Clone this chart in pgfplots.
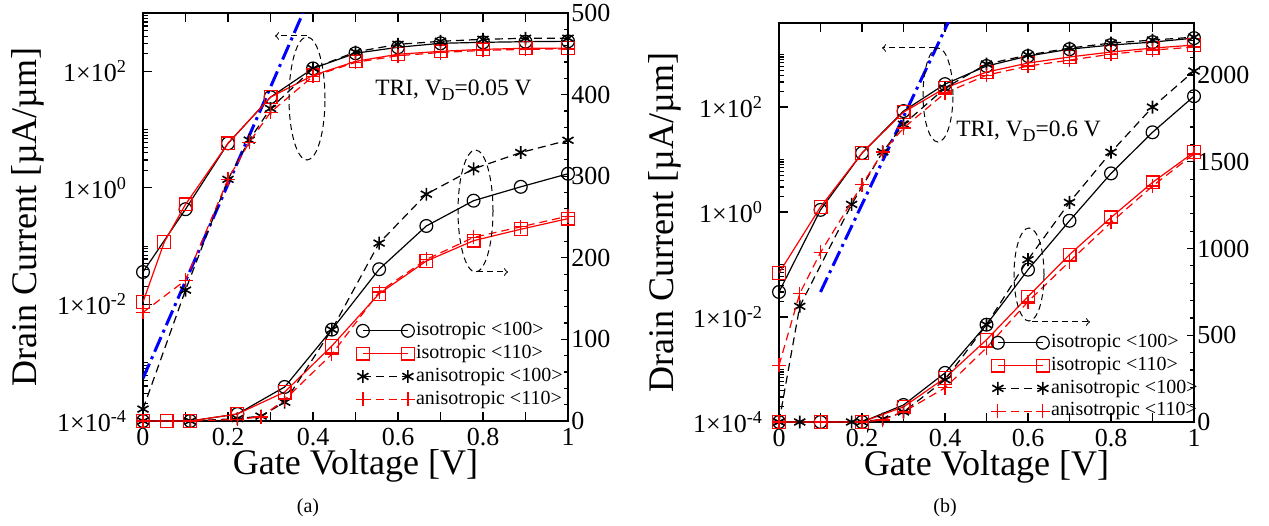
\documentclass[border=0pt]{standalone}
\usepackage{fontspec}
\setmainfont{Liberation Serif}
\usepackage{pgfplots}
\pgfplotsset{compat=1.18}

\tikzset{ell/.style={black, line width=0.5pt, dash pattern=on 3pt off 2pt}}

\pgfplotsset{
  base/.style={
    scale only axis, anchor=south west,
    xmin=0, xmax=1, enlargelimits=false,
    tick align=inside,
    tick label style={font=\fontsize{13}{13}\selectfont},
    label style={font=\fontsize{18}{18}\selectfont},
    /pgf/number format/assume math mode=true,
    /pgf/number format/1000 sep={},
    axis line style={line width=0.7pt},
    tick style={line width=0.6pt, black},
  },
  logax/.style={
    base, ymin=1e-4, clip mode=individual,
    xtick={0,0.1,0.2,0.3,0.4,0.5,0.6,0.7,0.8,0.9,1},
    xticklabels={0,,0.2,,0.4,,0.6,,0.8,,1},
    xtick pos=both, ytick pos=left,
    ytick={1e-4,1e-2,1,1e2},
    yticklabels={1×10\textsuperscript{-4},1×10\textsuperscript{-2},1×10\textsuperscript{0},1×10\textsuperscript{2}},
    minor ytick={2e-4,3e-4,4e-4,5e-4,6e-4,7e-4,8e-4,9e-4,1e-3,
                 2e-2,3e-2,4e-2,5e-2,6e-2,7e-2,8e-2,9e-2,1e-1,
                 2,3,4,5,6,7,8,9,10,
                 200,300,400,500,600,700,800,900,1000},
    major tick length=4.5pt, minor tick length=2.5pt,
    yticklabel style={xshift=-4.5pt},
    xlabel={Gate Voltage [V]},
    ylabel={Drain Current [µA/µm]},
    xlabel style={anchor=base},
    ylabel style={anchor=center},
  },
  linax/.style={
    base, ymin=0, clip=false,
    axis x line=none, axis y line*=right,
    major tick length=3.5pt, minor tick length=2pt,
    yticklabel style={xshift=-1.8pt},
    legend cell align=left,
    legend image code/.code={\draw[##1] plot coordinates {(0pt,0pt) (22.5pt,0pt)};},
    legend style={draw=none, fill=none, anchor=north west, inner sep=0pt,
      row sep=1pt, column sep=0pt,
      font=\fontsize{10}{10}\selectfont,
      nodes={inner sep=0.6pt, text height=7pt, text depth=2.2pt}},
  },
  iso100/.style={black, line width=0.6pt, mark=o, mark size=3.2pt, mark options={solid}},
  iso110/.style={red, line width=0.6pt, mark=square, mark size=3.2pt, mark options={solid}},
  an100/.style={black, line width=0.6pt, dash pattern=on 4pt off 2.5pt, mark=asterisk, mark size=3.2pt, mark options={solid, line width=0.8pt}},
  an110/.style={red, line width=0.6pt, dash pattern=on 4pt off 2.5pt, mark=+, mark size=3.5pt, mark options={solid}},
  slope/.style={blue, line width=1.5pt, dash pattern=on 8pt off 2.5pt on 1.5pt off 2.5pt},
}

\begin{document}
\begin{tikzpicture}
\path[use as bounding box] (0,0) rectangle (634.5pt,262.5pt);

% ---------- (a) ----------
\begin{axis}[ymode=log, logax, at={(71.5pt,52pt)}, width=212.5pt, height=204pt, ymax=1e3,
  ylabel style={at={(axis description cs:-0.27,0.5)}},
  xlabel style={at={(axis description cs:0.5,-0.13)}}]
\addplot[slope] coordinates {(0,5.4e-4) (0.38,1150)};
\addplot[iso100] coordinates {(0,0.036) (0.1,0.43) (0.2,5.8) (0.3,36) (0.4,112) (0.5,204) (0.6,258) (0.7,302) (0.8,314) (0.9,322) (1,327)};
\addplot[iso110] coordinates {(0,0.011) (0.05,0.117) (0.1,0.52) (0.2,5.8) (0.3,36) (0.4,85) (0.5,148) (0.6,196) (0.7,220) (0.8,238) (0.9,248) (1,250)};
\addplot[an100] coordinates {(0,1.6e-4) (0.1,0.0176) (0.2,1.4) (0.25,6.6) (0.3,23) (0.4,112) (0.5,215) (0.6,290) (0.7,327) (0.8,354) (0.9,368) (1,370)};
\addplot[an110] coordinates {(0,0.0073) (0.1,0.026) (0.2,1.4) (0.25,6.05) (0.3,19.8) (0.4,82) (0.5,142) (0.6,185) (0.7,210) (0.8,228) (0.9,238) (1,242)};
\end{axis}

\begin{axis}[linax, at={(71.5pt,52pt)}, width=212.5pt, height=204pt,
  ymax=500, ytick={0,100,200,300,400,500}, minor y tick num=4,
  legend style={at={(0.5,0.2475)}}]
\addplot[iso100] coordinates {(0,0) (0.1111,0) (0.2222,8.6) (0.3333,41.7) (0.4444,112) (0.5556,186) (0.6667,239) (0.7778,270) (0.8889,287) (1,303)};
\addlegendentry{isotropic <100>}
\addplot[iso110] coordinates {(0,0) (0.0556,0) (0.1111,0) (0.2222,8.6) (0.3333,35.5) (0.4444,92) (0.5556,156) (0.6667,196) (0.7778,221) (0.8889,235) (1,248)};
\addlegendentry{isotropic <110>}
\addplot[an100] coordinates {(0,0) (0.1111,0) (0.2222,3) (0.2778,6) (0.3333,23) (0.4444,112) (0.5556,218) (0.6667,278) (0.7778,309) (0.8889,329) (1,344)};
\addlegendentry{anisotropic <100>}
\addplot[an110] coordinates {(0,0) (0.1111,0) (0.2222,2) (0.2778,5) (0.3333,26) (0.4444,82) (0.5556,158) (0.6667,198) (0.7778,225) (0.8889,238) (1,251)};
\addlegendentry{anisotropic <110>}
\end{axis}

% ---------- (b) ----------
\begin{axis}[ymode=log, logax, at={(389.5pt,51.5pt)}, width=207.5pt, height=199.5pt, ymax=4000,
  ylabel style={at={(axis description cs:-0.275,0.5)}},
  xlabel style={at={(axis description cs:0.5,-0.133)}}]
\addplot[slope] coordinates {(0.1,0.03) (0.41,4470)};
\addplot[iso100] coordinates {(0,0.030) (0.1,1.1) (0.2,13.3) (0.3,84) (0.4,274) (0.5,605) (0.6,937) (0.7,1270) (0.8,1520) (0.9,1730) (1,2060)};
\addplot[iso110] coordinates {(0,0.069) (0.1,1.25) (0.2,13.3) (0.3,80) (0.4,230) (0.5,464) (0.6,690) (0.7,900) (0.8,1120) (0.9,1330) (1,1520)};
\addplot[an100] coordinates {(0,1e-4) (0.05,0.016) (0.175,1.4) (0.25,14) (0.3,47) (0.4,230) (0.5,660) (0.6,980) (0.7,1330) (0.8,1660) (0.9,1890) (1,2150)};
\addplot[an110] coordinates {(0,1.2e-3) (0.05,0.028) (0.1,0.17) (0.2,3.3) (0.25,13.9) (0.3,40) (0.4,185) (0.5,405) (0.6,605) (0.7,785) (0.8,1020) (0.9,1220) (1,1390)};
\end{axis}

\begin{axis}[linax, at={(389.5pt,51.5pt)}, width=207.5pt, height=199.5pt,
  ymax=2300, ytick={0,500,1000,1500,2000},
  minor ytick={100,200,300,400,600,700,800,900,1100,1200,1300,1400,1600,1700,1800,1900,2100,2200},
  legend style={at={(0.5096,0.2256)}}]
\addplot[iso100] coordinates {(0,0) (0.1,0) (0.2,0) (0.3,98) (0.4,283) (0.5,561) (0.6,878) (0.7,1160) (0.8,1433) (0.9,1670) (1,1878)};
\addlegendentry{isotropic <100>}
\addplot[iso110] coordinates {(0,0) (0.1,0) (0.2,0) (0.3,87) (0.4,254) (0.5,474) (0.6,723) (0.7,965) (0.8,1179) (0.9,1381) (1,1555)};
\addlegendentry{isotropic <110>}
\addplot[an100] coordinates {(0,0) (0.05,0) (0.175,0) (0.2,0) (0.25,17) (0.3,58) (0.4,243) (0.5,561) (0.6,936) (0.7,1266) (0.8,1555) (0.9,1815) (1,2023)};
\addlegendentry{anisotropic <100>}
\addplot[an110] coordinates {(0,0) (0.1,0) (0.2,0) (0.25,12) (0.3,58) (0.4,197) (0.5,428) (0.6,694) (0.7,925) (0.8,1150) (0.9,1360) (1,1545)};
\addlegendentry{anisotropic <110>}
\end{axis}

% annotations
\draw[ell] (153.5pt,213.25pt) ellipse [x radius=9pt, y radius=30.75pt];
\draw[ell,->] (153.5pt,244.5pt) -- (137.5pt,244.5pt);
\draw[ell] (237.75pt,157pt) ellipse [x radius=8.75pt, y radius=30.5pt];
\draw[ell,->] (238.5pt,126.5pt) -- (254pt,126.5pt);
\draw[ell] (469pt,215pt) ellipse [x radius=7.5pt, y radius=23.5pt];
\draw[ell,->] (467.5pt,238.5pt) -- (441pt,238.5pt);
\draw[ell] (514.5pt,125.25pt) ellipse [x radius=7.5pt, y radius=23.25pt];
\draw[ell,->] (516pt,101.5pt) -- (545pt,101.5pt);

\node[anchor=base west, inner sep=0pt, font=\fontsize{11.7}{12}\selectfont] at (187.5pt,214.5pt)
  {TRI, V\raisebox{-0.45ex}{\fontsize{9}{9}\selectfont D}=0.05 V};
\node[anchor=base west, inner sep=0pt, font=\fontsize{11.7}{12}\selectfont] at (478pt,194pt)
  {TRI, V\raisebox{-0.45ex}{\fontsize{9}{9}\selectfont D}=0.6 V};

\node[inner sep=0pt, font=\fontsize{10}{12}\selectfont] at (154pt,8.75pt) {(a)};
\node[inner sep=0pt, font=\fontsize{10}{12}\selectfont] at (472.5pt,8.75pt) {(b)};
\end{tikzpicture}
\end{document}
